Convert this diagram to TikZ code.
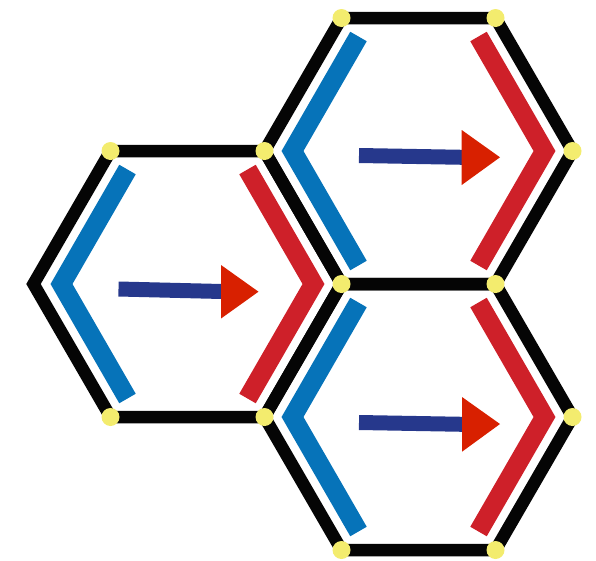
\documentclass[tikz,border=0pt]{standalone}
\definecolor{hexblack}{RGB}{5,5,5}
\definecolor{chevblue}{RGB}{6,115,185}
\definecolor{chevred}{RGB}{206,32,41}
\definecolor{arrowblue}{RGB}{38,56,140}
\definecolor{headred}{RGB}{216,32,0}
\definecolor{dotyellow}{RGB}{243,236,110}
\tikzset{
  hexedge/.style={draw=hexblack,line width=12.5pt,line join=miter},
  chevL/.style={draw=chevblue,line width=19pt,line join=miter,line cap=butt},
  chevR/.style={draw=chevred,line width=19pt,line join=miter,line cap=butt},
  bar/.style={draw=arrowblue,line width=15pt,line cap=butt},
  head/.style={fill=headred},
  vdot/.style={fill=dotyellow}
}
\begin{document}
\begin{tikzpicture}[x=1pt,y=-1pt]
\useasboundingbox (0,0) rectangle (596,560);
% hexagon centres
\coordinate (h1) at (187.5,284);
\coordinate (h2) at (418.5,151);
\coordinate (h3) at (418.5,417);
% black hexagons
\foreach \c in {h1,h2,h3}{
  \draw[hexedge] ([shift={(-77,-133)}]\c) -- ([shift={(77,-133)}]\c) -- ([shift={(154,0)}]\c)
     -- ([shift={(77,133)}]\c) -- ([shift={(-77,133)}]\c) -- ([shift={(-154,0)}]\c) -- cycle;
}
% chevrons
\foreach \c in {h1,h2,h3}{
  \draw[chevL] ([shift={(-60,-114.5)}]\c) -- ([shift={(-126,0)}]\c) -- ([shift={(-60,114.5)}]\c);
  \draw[chevR] ([shift={(60,-114.5)}]\c) -- ([shift={(126,0)}]\c) -- ([shift={(60,114.5)}]\c);
}
% vertex dots
\foreach \p in {(110.5,151),(264.5,151),(341.5,18),(495.5,18),(572.5,151),(341.5,284),
               (495.5,284),(572.5,417),(495.5,550),(341.5,550),(264.5,417),(110.5,417)}{
  \fill[vdot] \p circle (9);
}
% arrows
\coordinate (a1s) at (118.5,289);
\coordinate (a1e) at (222,291.5);
\draw[bar] (a1s) -- (a1e);
\fill[head] (221,265) -- (258.5,291.7) -- (221,318.5) -- cycle;
\coordinate (a2s) at (359,155.5);
\coordinate (a2e) at (463,157.3);
\draw[bar] (a2s) -- (a2e);
\fill[head] (461.7,130) -- (500,157.3) -- (461.7,185) -- cycle;
\coordinate (a3s) at (359,422.5);
\coordinate (a3e) at (463,424.3);
\draw[bar] (a3s) -- (a3e);
\fill[head] (462,397) -- (500,424) -- (462,451.7) -- cycle;
\end{tikzpicture}
\end{document}
